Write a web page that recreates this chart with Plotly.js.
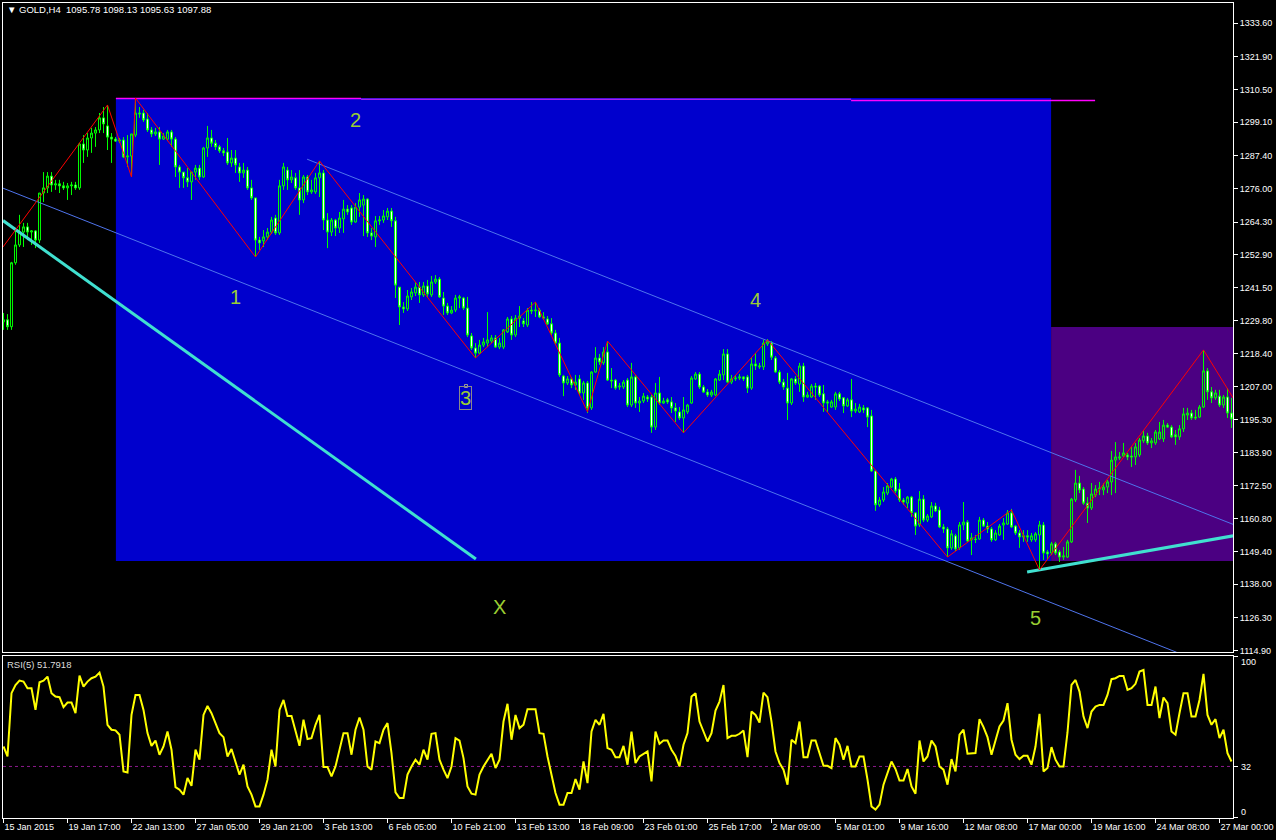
<!DOCTYPE html>
<html><head><meta charset="utf-8">
<script src="https://cdn.plot.ly/plotly-3.0.1.min.js"></script>
<style>html,body{margin:0;padding:0;background:#000;overflow:hidden}#chart{width:1276px;height:840px}</style>
</head><body><div id="chart"></div>
<script>
// ---------- data (GOLD H4) ----------
const opens=[1229.5,1230.2,1227.8,1250.1,1256.3,1260.8,1262.6,1260.8,1261.2,1258.0,
1274.4,1276.2,1280.3,1277.2,1277.6,1276.9,1276.2,1276.9,1277.2,1276.2,
1291.5,1289.4,1293.6,1295.3,1296.4,1300.6,1297.8,1293.9,1293.2,1292.5,
1292.9,1287.0,1287.3,1294.6,1302.3,1302.3,1300.2,1296.4,1295.0,1295.7,
1293.2,1293.2,1295.7,1293.2,1283.5,1281.7,1279.7,1278.3,1281.7,1283.1,
1280.0,1290.1,1293.6,1291.8,1290.5,1289.1,1288.7,1284.9,1286.6,1283.5,
1281.4,1282.4,1276.2,1272.7,1258.0,1257.7,1259.1,1260.8,1265.7,1260.5,
1276.9,1282.4,1279.0,1279.7,1276.2,1272.0,1280.0,1274.8,1274.8,1279.7,
1281.4,1265.0,1260.8,1265.0,1262.2,1265.4,1268.8,1269.2,1264.3,1269.5,
1270.2,1272.3,1260.5,1259.1,1264.7,1265.0,1266.1,1268.1,1264.7,1241.6,
1234.7,1234.0,1238.2,1239.6,1241.6,1238.9,1242.0,1238.9,1243.4,1244.4,
1237.8,1235.0,1232.6,1233.6,1237.8,1237.8,1234.3,1224.6,1220.4,1218.6,
1221.4,1222.1,1222.8,1223.9,1220.7,1220.7,1226.0,1230.5,1224.9,1230.8,
1229.8,1228.4,1233.6,1233.3,1233.6,1231.2,1230.5,1228.8,1225.6,1222.1,
1210.6,1208.2,1209.6,1207.5,1209.6,1204.7,1208.2,1199.5,1212.0,1216.9,
1215.2,1219.0,1209.2,1209.2,1206.8,1206.8,1209.2,1200.5,1210.3,1201.2,
1201.9,1203.3,1203.3,1192.8,1204.7,1201.2,1202.3,1201.6,1199.5,1198.1,
1196.0,1198.1,1201.2,1209.6,1211.3,1206.8,1205.0,1204.0,1204.0,1209.2,
1211.0,1218.3,1208.5,1209.6,1209.9,1210.3,1210.3,1206.4,1214.8,1213.8,
1213.8,1221.8,1222.1,1216.9,1212.0,1208.5,1206.4,1201.2,1209.6,1207.8,
1214.1,1203.3,1203.3,1207.1,1207.1,1204.4,1201.6,1199.8,1199.8,1204.4,
1203.0,1200.2,1202.3,1198.4,1198.1,1199.5,1199.5,1196.7,1177.5,1165.7,
1167.4,1169.8,1171.9,1174.7,1171.2,1167.4,1166.3,1168.4,1162.9,1158.7,
1167.7,1160.4,1161.5,1165.3,1163.9,1158.0,1157.3,1150.7,1154.9,1150.7,
1158.7,1159.7,1153.5,1153.8,1153.8,1160.4,1158.3,1157.3,1153.5,1155.2,
1158.7,1159.0,1162.9,1158.3,1155.9,1154.5,1154.9,1153.5,1153.5,1155.2,
1158.7,1149.3,1148.9,1152.1,1149.3,1147.5,1147.5,1152.8,1167.4,1173.3,
1171.2,1166.3,1164.6,1169.1,1171.2,1170.9,1171.9,1173.7,1181.3,1182.0,
1182.7,1183.1,1182.7,1182.4,1183.1,1188.0,1189.7,1187.3,1187.3,1188.7,
1188.7,1193.5,1192.8,1190.1,1189.4,1192.2,1197.0,1197.7,1196.3,1196.3,
1199.8,1212.4,1205.1,1203.0,1203.6,1200.5,1203.3,1197.7];
const highs=[1232.6,1232.2,1250.4,1261.5,1266.8,1264.0,1264.0,1261.5,1261.5,1274.4,
1281.7,1281.7,1281.7,1279.0,1279.0,1278.3,1277.9,1278.3,1278.3,1291.9,
1294.6,1295.3,1297.1,1297.4,1302.3,1304.4,1305.1,1295.3,1293.9,1293.6,
1293.9,1294.6,1295.0,1307.5,1304.4,1303.4,1302.3,1297.4,1297.1,1297.4,
1295.3,1296.4,1296.4,1293.9,1284.2,1281.7,1283.1,1281.7,1284.2,1284.2,
1290.5,1297.8,1296.4,1292.9,1291.2,1290.1,1293.6,1289.4,1289.4,1284.9,
1284.9,1283.5,1279.0,1272.7,1259.1,1261.5,1262.2,1266.1,1266.8,1279.0,
1284.9,1283.5,1282.4,1281.4,1282.4,1280.7,1280.7,1279.0,1281.4,1285.6,
1282.4,1267.4,1265.7,1265.4,1267.8,1272.0,1270.2,1270.2,1270.9,1274.4,
1273.7,1272.6,1262.2,1266.4,1266.4,1268.5,1269.2,1269.2,1266.1,1241.6,
1236.4,1240.6,1241.3,1243.4,1243.4,1243.4,1244.1,1245.5,1245.8,1245.1,
1239.9,1236.1,1235.0,1238.9,1238.9,1238.2,1238.2,1225.6,1222.1,1223.2,
1223.9,1232.9,1224.9,1224.9,1223.9,1227.0,1231.2,1231.5,1231.9,1235.0,
1230.8,1234.3,1236.4,1236.4,1234.3,1232.9,1231.5,1230.8,1226.7,1223.9,
1211.0,1210.6,1210.3,1211.0,1211.0,1208.9,1208.9,1212.3,1220.7,1218.3,
1220.7,1222.8,1213.4,1209.6,1208.2,1209.2,1209.9,1215.2,1211.0,1203.3,
1204.7,1204.0,1204.0,1208.2,1210.3,1203.0,1203.0,1203.3,1201.2,1199.8,
1203.3,1200.9,1210.6,1212.0,1212.0,1207.5,1206.1,1205.8,1209.9,1212.7,
1220.0,1220.0,1211.0,1211.0,1211.3,1210.6,1211.0,1217.2,1218.6,1215.2,
1223.2,1223.5,1222.8,1217.6,1212.7,1209.6,1211.7,1209.9,1210.6,1215.2,
1215.2,1205.1,1207.8,1208.2,1207.5,1207.5,1202.3,1202.3,1205.1,1205.1,
1203.3,1203.0,1209.6,1201.2,1200.9,1200.5,1199.8,1198.8,1177.9,1168.4,
1171.9,1173.3,1175.1,1175.4,1173.3,1168.1,1168.8,1168.8,1163.2,1170.5,
1169.1,1162.5,1166.7,1166.4,1165.0,1159.0,1158.0,1156.9,1155.6,1159.7,
1166.7,1160.4,1155.9,1155.2,1161.5,1161.1,1159.7,1158.0,1156.9,1159.0,
1161.1,1163.9,1164.3,1158.7,1156.9,1156.9,1156.9,1155.9,1156.2,1160.1,
1159.7,1150.0,1152.8,1152.8,1150.0,1151.0,1153.5,1168.1,1177.9,1175.8,
1171.9,1168.4,1173.3,1172.6,1173.7,1173.3,1174.4,1184.5,1187.6,1184.1,
1187.3,1183.8,1185.9,1187.3,1189.0,1191.8,1190.8,1189.0,1191.8,1194.6,
1195.3,1194.2,1193.5,1191.8,1193.5,1199.5,1199.5,1198.8,1198.8,1200.5,
1219.7,1213.4,1206.8,1205.8,1205.8,1204.0,1206.4,1203.0];
const lows=[1226.7,1226.7,1226.7,1249.4,1255.6,1255.6,1258.0,1256.3,1255.2,1257.0,
1271.3,1274.4,1274.8,1275.5,1274.4,1275.5,1272.0,1273.7,1275.5,1275.5,
1284.9,1287.0,1288.4,1290.5,1295.3,1295.3,1289.4,1284.9,1292.2,1291.8,
1286.6,1283.5,1280.0,1293.9,1300.6,1299.2,1295.7,1293.9,1294.3,1284.2,
1292.9,1292.5,1290.5,1280.0,1276.2,1276.2,1276.5,1272.0,1279.0,1279.0,
1279.7,1287.0,1290.5,1289.4,1288.4,1287.3,1284.2,1283.5,1281.4,1278.3,
1279.7,1275.5,1272.0,1252.1,1254.6,1255.6,1258.0,1260.1,1259.8,1259.8,
1275.5,1275.5,1277.9,1275.5,1266.8,1270.9,1273.7,1274.1,1274.1,1273.0,
1261.5,1255.2,1259.4,1259.4,1260.5,1260.5,1266.8,1263.3,1264.0,1266.1,
1259.4,1259.1,1258.0,1255.6,1263.3,1264.0,1265.0,1262.6,1237.8,1228.4,
1232.6,1233.3,1237.1,1238.5,1236.1,1238.2,1238.2,1238.2,1242.7,1237.8,
1231.9,1231.9,1232.2,1232.9,1234.3,1233.6,1224.2,1219.7,1216.9,1218.3,
1220.7,1220.7,1222.1,1220.4,1220.0,1220.0,1225.6,1223.2,1224.2,1227.7,
1227.7,1227.7,1232.2,1231.2,1230.8,1230.2,1228.4,1224.9,1221.4,1210.3,
1203.6,1207.5,1206.4,1205.8,1204.0,1202.3,1197.7,1198.8,1211.7,1214.5,
1214.5,1208.9,1206.4,1205.8,1205.8,1206.1,1199.8,1199.8,1199.5,1198.1,
1201.2,1201.6,1190.8,1191.8,1200.5,1200.9,1200.9,1197.7,1194.6,1195.3,
1190.8,1197.4,1200.9,1209.2,1206.1,1204.7,1203.3,1203.3,1203.6,1208.9,
1209.2,1208.2,1207.8,1208.9,1209.2,1208.9,1204.7,1205.8,1212.7,1213.1,
1212.7,1221.1,1216.2,1211.7,1207.8,1205.8,1195.3,1200.5,1207.5,1205.1,
1201.6,1203.0,1203.0,1202.3,1203.3,1198.1,1198.1,1199.5,1198.8,1201.9,
1197.7,1199.8,1196.3,1197.7,1197.7,1197.7,1192.8,1177.2,1163.6,1165.0,
1166.7,1169.1,1171.6,1169.8,1166.7,1165.7,1164.6,1161.5,1155.2,1158.0,
1159.7,1159.7,1161.1,1163.2,1157.6,1155.9,1147.5,1150.0,1149.6,1150.0,
1156.9,1152.8,1148.2,1152.4,1153.5,1158.0,1155.9,1152.8,1153.1,1154.9,
1153.5,1158.7,1157.6,1155.2,1150.7,1152.8,1152.8,1152.8,1152.8,1143.0,
1146.5,1146.5,1148.2,1148.2,1145.8,1146.5,1147.2,1152.4,1166.7,1169.8,
1165.7,1159.4,1163.9,1168.4,1169.1,1169.1,1169.8,1169.1,1169.8,1181.3,
1182.4,1181.3,1178.9,1179.6,1182.4,1187.3,1186.6,1185.5,1186.6,1188.3,
1187.6,1192.5,1189.0,1186.6,1188.3,1191.1,1195.3,1195.3,1195.3,1196.0,
1199.5,1202.3,1201.2,1202.3,1199.8,1199.5,1196.0,1192.5];
const closes=[1230.2,1227.8,1250.1,1256.3,1260.8,1262.6,1260.8,1261.2,1258.0,1274.4,
1276.2,1280.3,1277.2,1277.6,1276.9,1276.2,1276.9,1277.2,1276.2,1291.5,
1289.4,1293.6,1295.3,1296.4,1300.6,1298.5,1293.9,1293.2,1292.5,1292.9,
1287.0,1287.3,1295.0,1302.3,1302.0,1299.9,1296.4,1295.0,1295.7,1293.2,
1294.3,1295.7,1293.2,1283.5,1281.7,1279.7,1278.3,1281.7,1283.1,1280.0,
1290.1,1293.6,1291.8,1290.5,1289.1,1288.4,1284.9,1286.6,1284.2,1281.4,
1282.4,1276.2,1272.7,1258.0,1257.0,1259.1,1260.8,1265.0,1260.5,1276.9,
1283.5,1279.0,1280.0,1276.2,1272.0,1280.0,1274.8,1275.5,1279.7,1281.4,
1265.0,1260.8,1265.0,1262.2,1265.7,1268.8,1267.8,1264.3,1269.5,1272.0,
1272.3,1260.5,1259.4,1264.7,1265.0,1266.4,1268.1,1264.7,1242.3,1234.7,
1234.0,1238.5,1239.9,1241.6,1238.9,1242.0,1239.2,1243.4,1244.4,1238.2,
1235.0,1232.6,1233.6,1237.8,1238.2,1234.3,1224.9,1220.4,1218.6,1221.4,
1222.5,1223.2,1223.9,1220.7,1222.1,1226.7,1230.5,1224.9,1230.8,1231.5,
1228.8,1233.6,1233.3,1233.6,1231.2,1230.8,1228.8,1225.6,1222.1,1211.0,
1208.2,1209.6,1207.5,1208.5,1204.7,1208.2,1199.5,1212.0,1216.9,1215.5,
1219.0,1209.2,1208.9,1206.4,1207.1,1208.5,1200.5,1210.3,1201.2,1201.9,
1203.6,1202.6,1192.8,1204.7,1201.2,1201.9,1201.6,1199.5,1198.4,1196.0,
1198.8,1200.5,1209.9,1211.3,1206.8,1205.0,1204.0,1205.0,1209.6,1211.3,
1218.3,1208.5,1209.6,1209.9,1210.3,1209.6,1206.4,1214.8,1214.1,1214.1,
1222.1,1222.8,1217.2,1212.0,1208.5,1206.8,1201.2,1209.6,1208.2,1214.1,
1203.3,1204.0,1207.1,1206.8,1204.0,1201.2,1201.2,1201.6,1204.4,1202.6,
1200.2,1202.3,1198.4,1199.1,1199.8,1198.8,1196.3,1177.5,1165.7,1167.4,
1170.2,1172.3,1174.7,1170.5,1167.4,1166.7,1168.4,1162.9,1158.3,1167.7,
1160.4,1161.8,1165.3,1163.6,1158.0,1157.3,1150.7,1155.6,1150.3,1158.7,
1159.7,1153.1,1154.2,1153.6,1160.4,1158.3,1157.3,1153.5,1155.9,1158.3,
1159.4,1162.9,1158.0,1155.9,1154.5,1154.9,1154.5,1154.9,1155.6,1158.7,
1148.9,1148.6,1152.1,1148.9,1147.5,1147.9,1152.8,1167.7,1173.3,1170.9,
1166.3,1164.6,1169.5,1171.2,1171.5,1171.9,1173.7,1181.3,1182.4,1182.4,
1183.8,1182.4,1182.4,1185.9,1188.3,1189.7,1187.3,1188.0,1191.1,1191.1,
1193.5,1192.8,1189.4,1189.4,1192.2,1197.4,1197.7,1196.0,1196.0,1199.8,
1212.4,1205.1,1203.0,1204.7,1200.5,1203.3,1197.7,1195.6];
const rsi5=[44.4,38.2,77.5,82.6,85.3,84.7,80.6,80.6,67.1,84.3,
85.3,87.8,77.5,75.4,75.0,68.8,71.7,71.7,65.1,88.4,
81.6,84.7,86.8,87.8,90.3,81.6,57.9,54.8,54.4,51.7,
28.9,28.3,64.0,76.4,76.4,67.1,52.7,44.8,48.1,39.3,
44.4,53.7,42.4,19.2,17.6,14.5,24.8,20.0,42.4,36.2,
64.0,69.6,65.1,58.9,52.7,50.2,38.2,42.8,35.1,26.9,
33.1,19.6,14.5,7.2,7.2,14.5,23.8,42.4,32.0,67.1,
73.3,63.4,63.4,54.8,44.8,61.0,49.0,49.6,57.9,64.0,
31.6,31.6,25.8,32.0,42.4,52.7,52.7,39.3,54.8,62.4,
54.8,32.0,30.0,47.5,46.5,54.8,58.9,40.3,15.9,12.4,
12.4,26.9,32.0,36.2,33.1,42.4,36.2,52.3,52.7,36.2,
30.0,24.8,32.0,49.6,48.1,37.2,19.6,15.1,14.5,26.9,
32.0,36.2,39.9,31.0,36.2,59.9,70.9,48.6,64.0,55.8,
57.9,67.6,67.6,67.6,52.7,52.3,38.2,25.8,15.5,8.3,
8.3,15.5,15.5,24.2,17.6,35.1,21.7,53.7,61.0,57.9,
64.7,43.4,42.4,37.8,37.8,44.8,33.1,53.7,34.1,38.2,
39.5,41.3,22.7,53.7,46.1,48.1,48.1,42.4,38.6,32.0,
45.5,52.7,75.4,77.5,59.9,53.1,47.5,52.7,66.7,72.3,
82.6,49.6,51.0,51.0,52.3,54.3,37.8,66.1,64.0,59.3,
77.9,75.0,59.9,41.3,34.1,30.0,20.7,48.6,46.5,59.9,
37.8,37.8,48.1,48.1,40.3,32.4,32.4,31.0,49.6,45.5,
36.2,44.8,32.0,32.0,38.2,38.2,23.8,7.2,5.2,8.3,
20.7,27.9,35.1,30.4,23.3,23.3,30.4,19.6,15.1,48.1,
35.1,38.2,48.1,44.4,32.0,30.0,20.7,36.6,28.9,51.7,
54.8,39.9,39.9,40.3,61.4,56.4,50.2,39.3,48.1,56.8,
60.5,71.3,48.6,39.3,36.6,38.6,38.6,33.1,44.4,64.7,
28.9,31.0,44.0,36.2,32.0,32.0,53.1,82.6,85.7,78.5,
63.0,55.8,66.1,69.2,70.2,70.2,76.4,86.2,86.8,88.2,
88.2,79.5,80.6,83.3,90.9,91.9,70.2,70.2,81.6,62.0,
74.8,71.3,53.7,51.7,65.1,77.5,77.5,63.0,63.0,73.3,
89.5,64.0,57.9,61.4,49.6,54.8,40.3,35.1];

const timeLabels=["15 Jan 2015","19 Jan 17:00","22 Jan 13:00","27 Jan 05:00","29 Jan 21:00","3 Feb 13:00","6 Feb 05:00","10 Feb 21:00","13 Feb 13:00","18 Feb 09:00","23 Feb 01:00","25 Feb 17:00","2 Mar 09:00","5 Mar 01:00","9 Mar 16:00","12 Mar 08:00","17 Mar 00:00","19 Mar 16:00","24 Mar 08:00","27 Mar 00:00"];
const timeLabelBars=[0,16,32,48,64,80,96,112,128,144,160,176,192,208,224,240,256,272,288,304];
const priceTicks=[1333.6,1321.9,1310.5,1299.1,1287.4,1276.0,1264.3,1252.9,1241.5,1229.8,1218.4,1207.0,1195.3,1183.9,1172.5,1160.8,1149.4,1138.0,1126.3,1114.9];
const rsiLevels=[0,32,100];
const rsiLevelLabels=["0","32","100"];

// zigzag pivots (bar, price)
const zigzagBars=[-0.125,26,32,33,63,79,118,133,146,151,170,191,236,252,259,300,307.4];
const zigzagPrices=[1255.6,1305.1,1280.0,1307.5,1252.1,1285.6,1216.9,1236.4,1198.1,1222.8,1190.8,1223.2,1147.5,1163.9,1143.0,1219.7,1203.0];

// trend lines (bar, price) start/end
const channelUpperBars=[75.9,307.4], channelUpperPrices=[1286.2,1158.9];
const channelLowerBars=[-0.125,293.3], channelLowerPrices=[1276.1,1114.3];
const cyanLine1Bars=[-0.125,118.1], cyanLine1Prices=[1264.8,1146.8];
const cyanLine2Bars=[255.9,307.4], cyanLine2Prices=[1142.3,1154.9];
const topLineBars=[[28.1,89.4],[89.4,211.9],[211.9,272.9]];
const topLinePrices=[1307.4,1307.1,1306.7];

// zones
const blueZoneBars=[28.1,261.9], blueZonePrices=[1146.1,1307.5];
const purpleZoneBars=[261.9,312], purpleZonePrices=[1146.1,1227.7];

// wave labels
const waveText=["1","2","3","4","5","X"];
const waveBars=[57.9,87.9,115.6,187.9,257.9,123.9];
const wavePrices=[1238.2,1299.9,1202.9,1237.1,1126.3,1130.1];

const headerText="\u25BC GOLD,H4\u00a0\u00a01095.78 1098.13 1095.63 1097.88";
const rsiText="RSI(5) 51.7918";

// ---------- build ----------
const bars=opens.map((_,i)=>i);
const XR=[-0.125,307.375];
const WHITE='#ffffff';
const FONT='Liberation Sans, Arial, sans-serif';
// pixel helpers for paper-anchored text (plot area 3..1233 x 3..818)
const pX=px=>(px-3)/1230, pY=py=>(818-py)/815;

const traces=[];
traces.push({type:'candlestick',x:bars,open:opens,high:highs,low:lows,close:closes,
  xaxis:'x2',yaxis:'y',whiskerwidth:0,hoverinfo:'skip',
  increasing:{line:{color:'#00ff00',width:1},fillcolor:'rgba(0,0,0,0)'},
  decreasing:{line:{color:'#00ff00',width:1},fillcolor:'#ffffff'}});
const ln=(x,y,color,width)=>({type:'scatter',mode:'lines',x:x,y:y,xaxis:'x2',yaxis:'y',
  line:{color:color,width:width},hoverinfo:'skip'});
traces.push(ln(channelUpperBars,channelUpperPrices,'#4f74ec',1));
traces.push(ln(channelLowerBars,channelLowerPrices,'#4f74ec',1));
traces.push(ln(cyanLine1Bars,cyanLine1Prices,'#40e0d0',3));
traces.push(ln(cyanLine2Bars,cyanLine2Prices,'#40e0d0',3));
const topColors=['#ff00ff','#a020f0','#ff00ff'];
topLineBars.forEach((b,k)=>traces.push(ln(b,[topLinePrices[k],topLinePrices[k]],topColors[k],1.5)));
traces.push(ln(zigzagBars,zigzagPrices,'#ff0000',1));
traces.push({type:'scatter',mode:'lines',x:bars,y:rsi5,xaxis:'x',yaxis:'y2',
  line:{color:'#ffff00',width:2},hoverinfo:'skip'});

const shapes=[
  {type:'rect',xref:'x2',yref:'y',x0:blueZoneBars[0],x1:blueZoneBars[1],y0:blueZonePrices[0],y1:blueZonePrices[1],
   fillcolor:'#0000cd',line:{width:0},layer:'below'},
  {type:'rect',xref:'x2',yref:'y',x0:purpleZoneBars[0],x1:purpleZoneBars[1],y0:purpleZonePrices[0],y1:purpleZonePrices[1],
   fillcolor:'#4b0082',line:{width:0},layer:'below'},
  {type:'line',xref:'x',yref:'y2',x0:XR[0],x1:XR[1],y0:rsiLevels[1],y1:rsiLevels[1],
   line:{color:'#8b1a8b',width:1,dash:'3px,3px'},layer:'below'},
  {type:'rect',xref:'paper',yref:'paper',x0:pX(464.5),x1:pX(467.5),y0:pY(387.5),y1:pY(384.5),
   fillcolor:'rgba(0,0,0,0)',line:{color:'#9a9a9a',width:1}}
];

const annotations=[];
waveText.forEach((t,k)=>{
  const a={xref:'x2',yref:'y',x:waveBars[k],y:wavePrices[k],text:t,showarrow:false,
    xanchor:'center',yanchor:'middle',font:{family:FONT,size:20,color:'#9acd32'}};
  if(t==='3'){a.bordercolor='#8a8a8a';a.borderwidth=1;a.borderpad=0;}
  annotations.push(a);
});
annotations.push({xref:'paper',yref:'paper',x:pX(5),y:pY(10),text:headerText,showarrow:false,
  xanchor:'left',yanchor:'middle',font:{family:FONT,size:9.5,color:WHITE}});
annotations.push({xref:'paper',yref:'paper',x:pX(5),y:pY(664),text:rsiText,showarrow:false,
  xanchor:'left',yanchor:'middle',font:{family:FONT,size:9.5,color:'#dddddd'}});
const rsiLabelPix=[812,767,662];
rsiLevels.forEach((v,k)=>annotations.push({xref:'paper',yref:'paper',x:pX(1239),y:pY(rsiLabelPix[k]),
  text:rsiLevelLabels[k],showarrow:false,xanchor:'left',yanchor:'middle',font:{family:FONT,size:9,color:WHITE}}));

const axisBase={showgrid:false,zeroline:false,showline:true,linecolor:WHITE,linewidth:1,mirror:true,
  tickcolor:WHITE,fixedrange:true};
const layout={
  width:1276,height:840,paper_bgcolor:'#000',plot_bgcolor:'#000',
  margin:{l:3,r:43,t:3,b:22,pad:0},showlegend:false,hovermode:false,
  font:{family:FONT,size:9,color:WHITE},
  xaxis:Object.assign({},axisBase,{domain:[0,1],range:XR,anchor:'y2',tickmode:'array',
    tickvals:timeLabelBars,ticktext:timeLabels,ticks:'outside',ticklen:4,ticklabelposition:'outside right',
    ticklabeloverflow:'allow',tickangle:0,automargin:false,tickfont:{family:FONT,size:9,color:WHITE}}),
  xaxis2:Object.assign({},axisBase,{domain:[0,1],range:XR,anchor:'y',showticklabels:false,ticks:'',
    rangeslider:{visible:false}}),
  yaxis:Object.assign({},axisBase,{domain:[0.2031,1],range:[1114.24,1340.65],side:'right',anchor:'x2',
    tickmode:'array',tickvals:priceTicks,tickformat:'.2f',ticks:'outside',ticklen:4,automargin:false,
    tickfont:{family:FONT,size:9,color:WHITE}}),
  yaxis2:Object.assign({},axisBase,{domain:[0,0.1982],range:[0,100.3],side:'right',anchor:'x',
    tickmode:'array',tickvals:rsiLevels,ticks:'outside',ticklen:4,showticklabels:false,automargin:false}),
  shapes:shapes,annotations:annotations
};
Plotly.newPlot('chart',traces,layout,{staticPlot:true,displayModeBar:false});
</script>
</body></html>
